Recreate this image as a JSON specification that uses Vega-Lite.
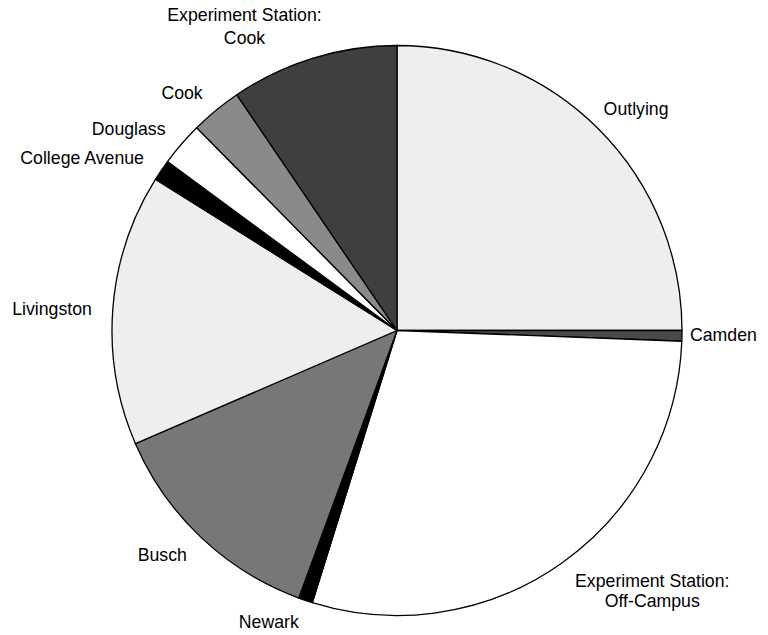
{
  "$schema": "https://vega.github.io/schema/vega-lite/v6.json",
  "width": 742,
  "height": 609,
  "autosize": {"type": "none"},
  "padding": {"left": 26, "top": 26, "right": 0, "bottom": 0},
  "background": "white",
  "config": {
    "view": {"stroke": null},
    "text": {"font": "Liberation Sans", "fontSize": 17.7, "fill": "black"}
  },
  "data": {
    "values": [
      {"campus": "Outlying", "label": "Outlying", "share": 25.0},
      {"campus": "Camden", "label": "Camden", "share": 0.6},
      {"campus": "Experiment Station: Off-Campus", "label": "Experiment Station:\nOff-Campus", "share": 29.2},
      {"campus": "Newark", "label": "Newark", "share": 0.8},
      {"campus": "Busch", "label": "Busch", "share": 12.9},
      {"campus": "Livingston", "label": "Livingston", "share": 15.4},
      {"campus": "College Avenue", "label": "College Avenue", "share": 1.2},
      {"campus": "Douglass", "label": "Douglass", "share": 2.5},
      {"campus": "Cook", "label": "Cook", "share": 2.9},
      {"campus": "Experiment Station: Cook", "label": "Experiment Station:\nCook", "share": 9.5}
    ]
  },
  "transform": [{"window": [{"op": "row_number", "as": "idx"}]}],
  "encoding": {
    "theta": {"field": "share", "type": "quantitative", "stack": true},
    "order": {"field": "idx", "type": "quantitative"}
  },
  "layer": [
    {
      "mark": {"type": "arc", "radius": 285, "stroke": "black", "strokeWidth": 1.3},
      "encoding": {
        "color": {
          "field": "campus",
          "type": "nominal",
          "legend": null,
          "scale": {
            "domain": ["Outlying", "Camden", "Experiment Station: Off-Campus", "Newark", "Busch", "Livingston", "College Avenue", "Douglass", "Cook", "Experiment Station: Cook"],
            "range": ["#eeeeee", "#4a4a4a", "#ffffff", "#000000", "#777777", "#eeeeee", "#000000", "#ffffff", "#8a8a8a", "#3f3f3f"]
          }
        }
      }
    },
    {
      "mark": {"type": "text", "radius": 312, "dx": -14, "align": "left", "baseline": "middle"},
      "encoding": {
        "detail": {"field": "campus", "type": "nominal"},
        "text": {"condition": {"test": "datum.campus === 'Outlying'", "field": "label", "type": "nominal"}, "value": ""}
      }
    },
    {
      "mark": {"type": "text", "radius": 293, "align": "left", "baseline": "middle"},
      "encoding": {
        "detail": {"field": "campus", "type": "nominal"},
        "text": {"condition": {"test": "datum.campus === 'Camden'", "field": "label", "type": "nominal"}, "value": ""}
      }
    },
    {
      "mark": {"type": "text", "radius": 306, "align": "right", "baseline": "middle", "dy": 3},
      "encoding": {
        "detail": {"field": "campus", "type": "nominal"},
        "text": {"condition": {"test": "indexof(['Newark','Busch','Livingston'], datum.campus) >= 0", "field": "label", "type": "nominal"}, "value": ""}
      }
    },
    {
      "mark": {"type": "text", "radius": 306, "align": "right", "baseline": "middle"},
      "encoding": {
        "detail": {"field": "campus", "type": "nominal"},
        "text": {"condition": {"test": "indexof(['College Avenue','Douglass','Cook'], datum.campus) >= 0", "field": "label", "type": "nominal"}, "value": ""}
      }
    },
    {
      "mark": {"type": "text", "radius": 318, "dx": -59, "dy": -11, "align": "center", "baseline": "middle", "lineBreak": "\n", "lineHeight": 23},
      "encoding": {
        "detail": {"field": "campus", "type": "nominal"},
        "text": {"condition": {"test": "datum.campus === 'Experiment Station: Cook'", "field": "label", "type": "nominal"}, "value": ""}
      }
    },
    {
      "mark": {"type": "text", "radius": 319, "dx": 71, "dy": -9, "align": "center", "baseline": "middle", "lineBreak": "\n", "lineHeight": 20},
      "encoding": {
        "detail": {"field": "campus", "type": "nominal"},
        "text": {"condition": {"test": "datum.campus === 'Experiment Station: Off-Campus'", "field": "label", "type": "nominal"}, "value": ""}
      }
    }
  ]
}
